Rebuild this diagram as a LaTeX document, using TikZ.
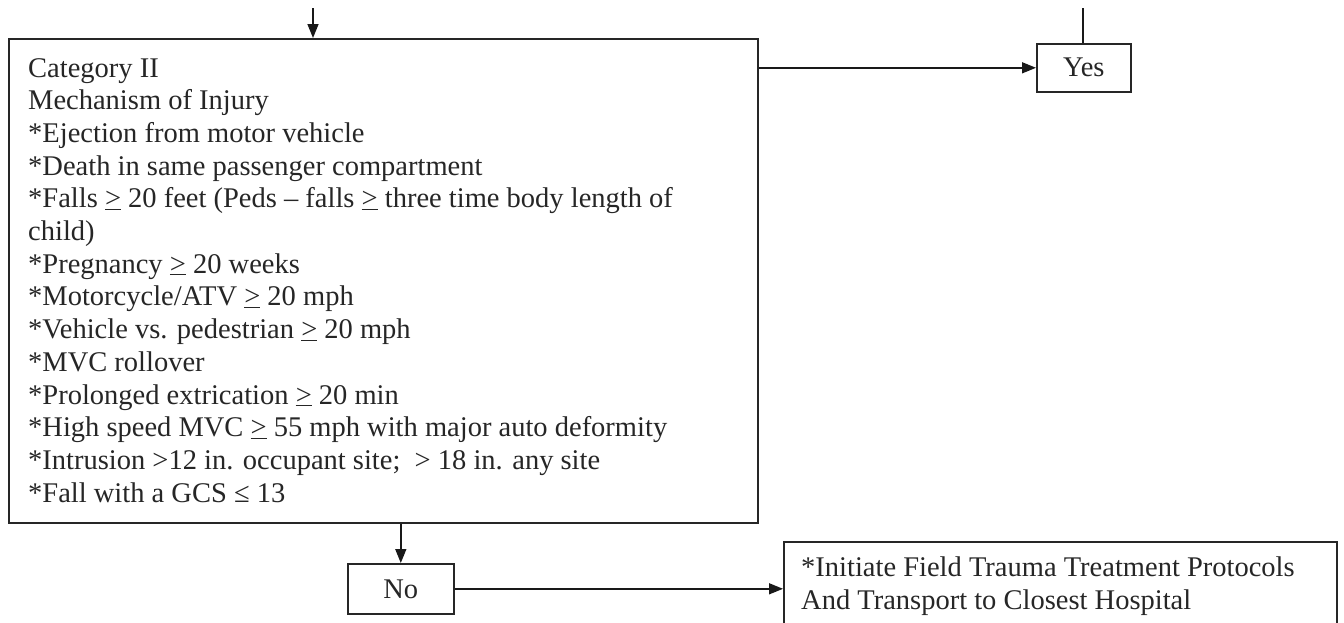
\documentclass[tikz,border=0pt]{standalone}
\usepackage{fontspec}
\setmainfont{Liberation Serif}
\usetikzlibrary{arrows.meta}
\newcommand\ugt{\underline{>}}
\begin{document}
\begin{tikzpicture}[x=1pt,y=-1pt,
  boxline/.style={draw=black!85, line width=1.6pt},
  txt/.style={font=\fontsize{28.5}{32.7}\selectfont, text=black!85, inner sep=0pt},
  arr/.style={draw=black!90, line width=1.5pt, -{Triangle[length=14pt,width=11pt]}},
  plain/.style={draw=black!90, line width=1.5pt}]
\useasboundingbox (0,0) rectangle (1344,622);
% main box
\node[boxline, minimum width=749pt, minimum height=484pt, inner sep=0pt, anchor=north west] (main) at (8,38) {};
\node[txt, anchor=north west, align=left] (maintext) at (28,58) {Category II\\
Mechanism of Injury\\
*Ejection from motor vehicle\\
*Death in same passenger compartment\\
*Falls \ugt{} 20 feet (Peds -- falls \ugt{} three time body length of\\
child)\\
*Pregnancy \ugt{} 20 weeks\\
*Motorcycle/ATV \ugt{} 20 mph\\
*Vehicle vs. pedestrian \ugt{} 20 mph\\
*MVC rollover\\
*Prolonged extrication \ugt{} 20 min\\
*High speed MVC \ugt{} 55 mph with major auto deformity\\
*Intrusion >12 in. occupant site;\ \ > 18 in. any site\\
*Fall with a GCS ≤ 13};
% yes box
\node[boxline, txt, minimum width=94pt, minimum height=48pt, anchor=north west] (yes) at (1036,43) {Yes};
% no box
\node[boxline, txt, minimum width=106pt, minimum height=50pt, anchor=north west] (no) at (347,563) {No};
% initiate box
\node[boxline, minimum width=553pt, minimum height=110pt, inner sep=0pt, anchor=north west] (init) at (783,541) {};
\node[txt, anchor=north west, align=left] (inittext) at (801,557) {*Initiate Field Trauma Treatment Protocols\\
And Transport to Closest Hospital};
% coordinates
\coordinate (topin) at (313,8);
\coordinate (yestop) at (1083,8);
% connectors
\draw[arr] (topin) -- (topin |- main.north);
\draw[plain] (yestop) -- (yestop |- yes.north);
\draw[arr] (main.east |- yes.west) -- (yes.west);
\draw[arr] (no.north |- main.south) -- (no.north);
\draw[arr] (no.east) -- (init.west |- no.east);
\end{tikzpicture}
\end{document}
